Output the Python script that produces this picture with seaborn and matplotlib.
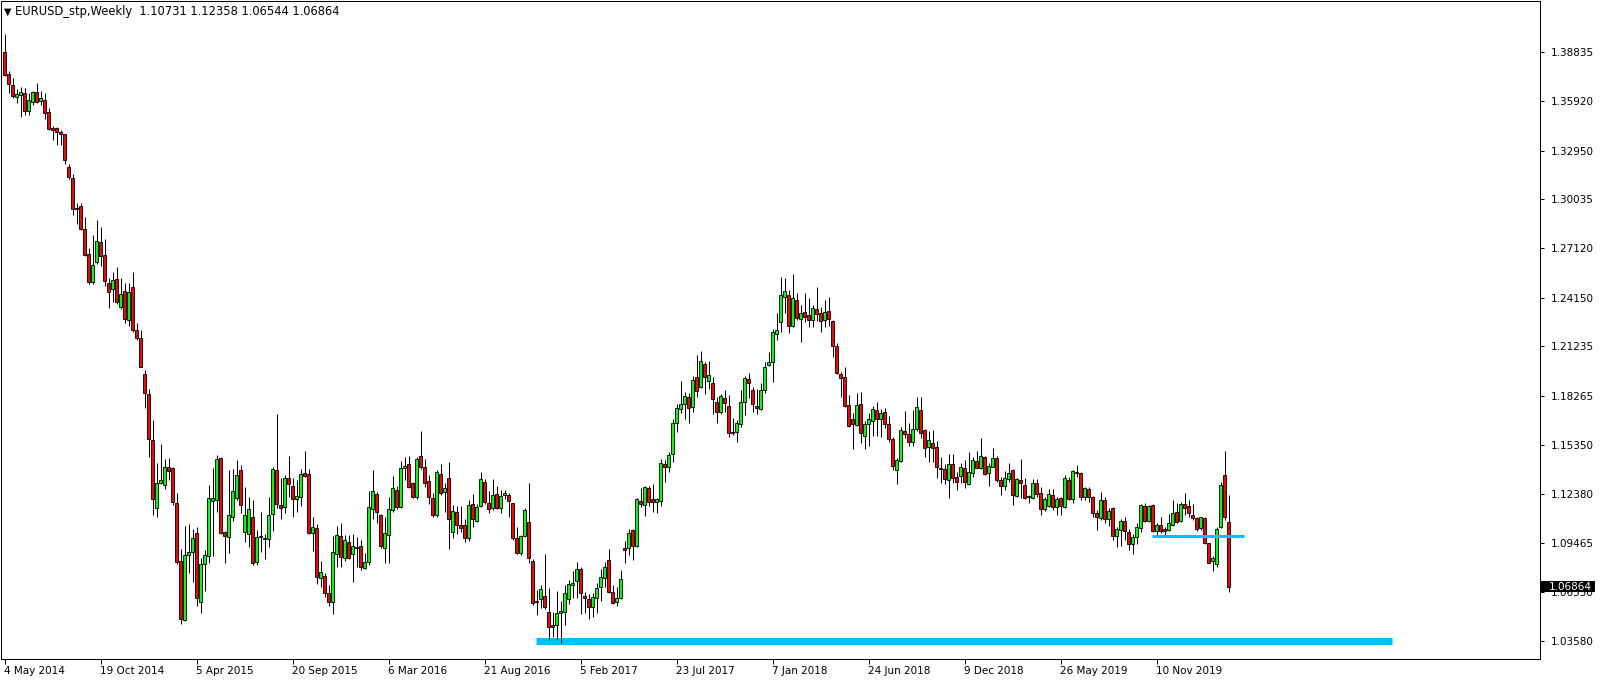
import numpy as np
import pandas as pd
import matplotlib
matplotlib.use("Agg")
import matplotlib.pyplot as plt
import matplotlib.transforms as mtransforms
from matplotlib.patches import Rectangle
import seaborn as sns

# EURUSD weekly candles, week of 4 May 2014 up to week of 15 Mar 2020
open_ = [
    1.3882, 1.3752, 1.3690, 1.3616, 1.3628, 1.3640, 1.3532, 1.3586, 1.3644, 1.3592,
    1.3596, 1.3524, 1.3430, 1.3430, 1.3404, 1.3392, 1.3194, 1.3128, 1.2954, 1.2966,
    1.2828, 1.2678, 1.2506, 1.2626, 1.2750, 1.2670, 1.2504, 1.2466, 1.2526, 1.2356,
    1.2456, 1.2280, 1.2476, 1.2220, 1.2176, 1.1955, 1.1840, 1.1563, 1.1154, 1.1307,
    1.1293, 1.1399, 1.1393, 1.1184, 1.0838, 1.0485, 1.0872, 1.0890, 1.1004, 1.0591,
    1.0819, 1.0868, 1.1196, 1.1204, 1.1453, 1.1014, 1.0984, 1.1100, 1.1214, 1.1383,
    1.1010, 1.0998, 1.1102, 1.0834, 1.0988, 1.0976, 1.0972, 1.1120, 1.1383, 1.1174,
    1.1160, 1.1333, 1.1287, 1.1212, 1.1224, 1.1363, 1.1357, 1.1008, 1.1036, 1.0735,
    1.0749, 1.0649, 1.0591, 1.0879, 1.0989, 1.0855, 1.0953, 1.0879, 1.0925, 1.0929,
    1.0795, 1.0835, 1.1148, 1.1238, 1.1114, 1.0915, 1.0995, 1.1144, 1.1264, 1.1164,
    1.1397, 1.1417, 1.1304, 1.1220, 1.1467, 1.1399, 1.1318, 1.1214, 1.1116, 1.1360,
    1.1250, 1.1334, 1.1010, 1.1130, 1.1054, 1.1054, 1.0974, 1.1178, 1.1080, 1.1168,
    1.1310, 1.1188, 1.1158, 1.1238, 1.1154, 1.1232, 1.1232, 1.1184, 1.0975, 1.0885,
    1.0991, 1.1070, 1.0839, 1.0597, 1.0609, 1.0629, 1.0534, 1.0456, 1.0454, 1.0526,
    1.0532, 1.0609, 1.0695, 1.0721, 1.0789, 1.0629, 1.0609, 1.0565, 1.0615, 1.0681,
    1.0735, 1.0845, 1.0655, 1.0591, 1.0615, 1.0918, 1.0914, 1.1024, 1.0928, 1.1198,
    1.1172, 1.1274, 1.1210, 1.1194, 1.1200, 1.1419, 1.1399, 1.1477, 1.1663, 1.1746,
    1.1776, 1.1818, 1.1758, 1.1938, 1.1882, 1.2018, 1.1918, 1.1906, 1.1790, 1.1728,
    1.1812, 1.1766, 1.1611, 1.1613, 1.1657, 1.1788, 1.1928, 1.1862, 1.1766, 1.1746,
    1.1862, 1.2010, 1.2028, 1.2195, 1.2267, 1.2421, 1.2431, 1.2247, 1.2401, 1.2287,
    1.2329, 1.2311, 1.2281, 1.2345, 1.2321, 1.2281, 1.2335, 1.2275, 1.2123, 1.1958,
    1.1940, 1.1772, 1.1688, 1.1655, 1.1778, 1.1589, 1.1659, 1.1677, 1.1742, 1.1690,
    1.1728, 1.1659, 1.1567, 1.1383, 1.1439, 1.1617, 1.1601, 1.1549, 1.1627, 1.1742,
    1.1623, 1.1523, 1.1543, 1.1519, 1.1393, 1.1387, 1.1323, 1.1417, 1.1339, 1.1349,
    1.1393, 1.1300, 1.1367, 1.1437, 1.1397, 1.1459, 1.1363, 1.1403, 1.1455, 1.1323,
    1.1288, 1.1329, 1.1383, 1.1228, 1.1323, 1.1294, 1.1228, 1.1214, 1.1303, 1.1244,
    1.1148, 1.1168, 1.1232, 1.1160, 1.1214, 1.1160, 1.1323, 1.1212, 1.1374, 1.1368,
    1.1224, 1.1268, 1.1220, 1.1124, 1.1098, 1.1204, 1.1092, 1.1154, 1.0990, 1.1024,
    1.1080, 1.1012, 1.0938, 1.0980, 1.1034, 1.1168, 1.1080, 1.1172, 1.1020, 1.1054,
    1.1028, 1.1024, 1.1054, 1.1130, 1.1080, 1.1178, 1.1168, 1.1114, 1.1094, 1.1034,
    1.1094, 1.0944, 1.0841, 1.0821, 1.1044, 1.1352, 1.10731,
]
high = [
    1.3992, 1.3772, 1.3732, 1.3666, 1.3676, 1.3668, 1.3640, 1.3652, 1.3700, 1.3650,
    1.3640, 1.3548, 1.3440, 1.3436, 1.3416, 1.3396, 1.3216, 1.3156, 1.2980, 1.2980,
    1.2900, 1.2712, 1.2792, 1.2882, 1.2840, 1.2766, 1.2530, 1.2566, 1.2600, 1.2530,
    1.2504, 1.2500, 1.2570, 1.2266, 1.2220, 1.1980, 1.1870, 1.1682, 1.1423, 1.1539,
    1.1447, 1.1455, 1.1399, 1.1248, 1.0912, 1.1048, 1.1060, 1.1032, 1.1044, 1.0859,
    1.0904, 1.1293, 1.1393, 1.1473, 1.1459, 1.1020, 1.1383, 1.1387, 1.1443, 1.1413,
    1.1279, 1.1220, 1.1204, 1.1024, 1.1130, 1.1000, 1.1220, 1.1403, 1.1718, 1.1333,
    1.1353, 1.1467, 1.1333, 1.1323, 1.1387, 1.1495, 1.1387, 1.1104, 1.1060, 1.0839,
    1.0769, 1.0695, 1.0989, 1.1048, 1.1064, 1.0995, 1.0995, 1.0998, 1.0985, 1.0965,
    1.0885, 1.1260, 1.1383, 1.1254, 1.1120, 1.1104, 1.1220, 1.1348, 1.1288, 1.1439,
    1.1463, 1.1467, 1.1314, 1.1459, 1.1617, 1.1447, 1.1354, 1.1244, 1.1383, 1.1419,
    1.1304, 1.1431, 1.1174, 1.1168, 1.1168, 1.1090, 1.1204, 1.1240, 1.1180, 1.1371,
    1.1328, 1.1258, 1.1328, 1.1288, 1.1264, 1.1264, 1.1244, 1.1188, 1.1040, 1.0995,
    1.1154, 1.1304, 1.0849, 1.0665, 1.0695, 1.0881, 1.0675, 1.0536, 1.0659, 1.0601,
    1.0695, 1.0725, 1.0781, 1.0831, 1.0801, 1.0655, 1.0641, 1.0645, 1.0705, 1.0789,
    1.0835, 1.0908, 1.0695, 1.0685, 1.0785, 1.0958, 1.1028, 1.1028, 1.1218, 1.1274,
    1.1288, 1.1288, 1.1300, 1.1214, 1.1447, 1.1443, 1.1493, 1.1689, 1.1778, 1.1916,
    1.1852, 1.1842, 1.1946, 1.2072, 1.2096, 1.2032, 1.2038, 1.1942, 1.1818, 1.1838,
    1.1862, 1.1832, 1.1692, 1.1683, 1.1862, 1.1946, 1.1962, 1.1878, 1.1868, 1.1902,
    1.2032, 1.2090, 1.2227, 1.2325, 1.2540, 1.2530, 1.2461, 1.2556, 1.2441, 1.2371,
    1.2441, 1.2411, 1.2371, 1.2477, 1.2357, 1.2401, 1.2417, 1.2281, 1.2141, 1.1968,
    1.1998, 1.1830, 1.1726, 1.1842, 1.1852, 1.1679, 1.1722, 1.1768, 1.1792, 1.1748,
    1.1754, 1.1708, 1.1583, 1.1453, 1.1643, 1.1736, 1.1667, 1.1742, 1.1822, 1.1822,
    1.1629, 1.1619, 1.1623, 1.1557, 1.1459, 1.1419, 1.1479, 1.1479, 1.1373, 1.1423,
    1.1443, 1.1493, 1.1463, 1.1499, 1.1573, 1.1467, 1.1423, 1.1517, 1.1467, 1.1343,
    1.1379, 1.1423, 1.1390, 1.1333, 1.1449, 1.1333, 1.1234, 1.1329, 1.1329, 1.1283,
    1.1224, 1.1268, 1.1268, 1.1220, 1.1224, 1.1353, 1.1343, 1.1383, 1.1414, 1.1374,
    1.1284, 1.1284, 1.1228, 1.1144, 1.1252, 1.1224, 1.1154, 1.1164, 1.1044, 1.1090,
    1.1104, 1.1028, 1.1000, 1.1064, 1.1180, 1.1184, 1.1174, 1.1180, 1.1064, 1.1104,
    1.1040, 1.1120, 1.1204, 1.1188, 1.1194, 1.1244, 1.1204, 1.1180, 1.1104, 1.1104,
    1.1104, 1.0948, 1.0869, 1.1040, 1.1314, 1.1495, 1.12358,
]
low = [
    1.3744, 1.3640, 1.3612, 1.3580, 1.3496, 1.3508, 1.3506, 1.3568, 1.3578, 1.3566,
    1.3482, 1.3420, 1.3356, 1.3326, 1.3326, 1.3212, 1.3126, 1.2912, 1.2856, 1.2822,
    1.2666, 1.2496, 1.2496, 1.2616, 1.2606, 1.2482, 1.2352, 1.2390, 1.2376, 1.2344,
    1.2266, 1.2246, 1.2212, 1.2160, 1.2000, 1.1754, 1.1460, 1.1114, 1.1100, 1.1299,
    1.1271, 1.1323, 1.1174, 1.0824, 1.0465, 1.0481, 1.0769, 1.0715, 1.0571, 1.0525,
    1.0661, 1.0825, 1.0868, 1.1134, 1.1000, 1.0825, 1.0888, 1.1080, 1.1204, 1.1128,
    1.0954, 1.0920, 1.0815, 1.0815, 1.0894, 1.0849, 1.0924, 1.1020, 1.1154, 1.1088,
    1.1124, 1.1220, 1.1104, 1.1134, 1.1168, 1.1339, 1.1000, 1.0900, 1.0701, 1.0681,
    1.0621, 1.0571, 1.0522, 1.0801, 1.0805, 1.0841, 1.0849, 1.0715, 1.0805, 1.0785,
    1.0789, 1.0815, 1.1088, 1.1068, 1.0915, 1.0829, 1.0825, 1.1134, 1.1148, 1.1154,
    1.1324, 1.1274, 1.1214, 1.1212, 1.1390, 1.1280, 1.1180, 1.1104, 1.1100, 1.1234,
    1.1134, 1.0913, 1.0975, 1.1000, 1.1014, 1.0955, 1.0960, 1.1044, 1.1074, 1.1164,
    1.1180, 1.1124, 1.1144, 1.1148, 1.1124, 1.1208, 1.1104, 1.0965, 1.0881, 1.0875,
    1.0985, 1.0829, 1.0574, 1.0516, 1.0556, 1.0550, 1.0366, 1.0382, 1.0366, 1.0346,
    1.0456, 1.0581, 1.0619, 1.0619, 1.0522, 1.0526, 1.0494, 1.0502, 1.0530, 1.0601,
    1.0685, 1.0649, 1.0581, 1.0571, 1.0609, 1.0825, 1.0875, 1.0845, 1.0924, 1.1164,
    1.1110, 1.1168, 1.1134, 1.1124, 1.1168, 1.1313, 1.1373, 1.1433, 1.1613, 1.1722,
    1.1690, 1.1663, 1.1732, 1.1822, 1.1872, 1.1838, 1.1866, 1.1716, 1.1667, 1.1718,
    1.1732, 1.1579, 1.1593, 1.1553, 1.1639, 1.1712, 1.1812, 1.1732, 1.1718, 1.1742,
    1.1846, 1.2006, 1.1912, 1.2161, 1.2211, 1.2325, 1.2205, 1.2237, 1.2281, 1.2151,
    1.2271, 1.2241, 1.2241, 1.2277, 1.2211, 1.2241, 1.2245, 1.2057, 1.1958, 1.1822,
    1.1762, 1.1643, 1.1509, 1.1649, 1.1543, 1.1509, 1.1529, 1.1589, 1.1589, 1.1583,
    1.1633, 1.1553, 1.1383, 1.1301, 1.1433, 1.1573, 1.1527, 1.1529, 1.1619, 1.1573,
    1.1463, 1.1433, 1.1433, 1.1337, 1.1304, 1.1300, 1.1214, 1.1304, 1.1264, 1.1304,
    1.1274, 1.1294, 1.1343, 1.1393, 1.1387, 1.1353, 1.1288, 1.1399, 1.1313, 1.1234,
    1.1264, 1.1313, 1.1174, 1.1224, 1.1214, 1.1208, 1.1184, 1.1208, 1.1224, 1.1114,
    1.1140, 1.1160, 1.1144, 1.1114, 1.1114, 1.1154, 1.1204, 1.1184, 1.1344, 1.1204,
    1.1204, 1.1194, 1.1104, 1.1024, 1.1084, 1.1064, 1.1048, 1.0965, 1.0925, 1.0929,
    1.0965, 1.0905, 1.0881, 1.0940, 1.1014, 1.1074, 1.1074, 1.1014, 1.0988, 1.1008,
    1.0984, 1.1020, 1.1048, 1.1064, 1.1074, 1.1114, 1.1104, 1.1084, 1.1020, 1.1024,
    1.0940, 1.0825, 1.0781, 1.0805, 1.1034, 1.1084, 1.06544,
]
close = [
    1.3746, 1.3696, 1.3622, 1.3632, 1.3644, 1.3532, 1.3596, 1.3646, 1.3584, 1.3608,
    1.3520, 1.3424, 1.3418, 1.3406, 1.3394, 1.3238, 1.3136, 1.2944, 1.2944, 1.2828,
    1.2672, 1.2506, 1.2612, 1.2756, 1.2664, 1.2512, 1.2446, 1.2520, 1.2386, 1.2436,
    1.2286, 1.2450, 1.2220, 1.2172, 1.2002, 1.1842, 1.1566, 1.1208, 1.1304, 1.1323,
    1.1399, 1.1379, 1.1194, 1.0834, 1.0489, 1.0874, 1.0890, 1.0974, 1.0615, 1.0821,
    1.0872, 1.1214, 1.1216, 1.1449, 1.1008, 1.0988, 1.1114, 1.1257, 1.1353, 1.1172,
    1.1114, 1.1150, 1.0830, 1.0982, 1.0984, 1.0968, 1.1114, 1.1389, 1.1180, 1.1154,
    1.1333, 1.1297, 1.1208, 1.1228, 1.1357, 1.1347, 1.1008, 1.1040, 1.0741, 1.0775,
    1.0649, 1.0595, 1.0891, 1.0995, 1.0865, 1.0965, 1.0859, 1.0931, 1.0915, 1.0801,
    1.0831, 1.1160, 1.1258, 1.1130, 1.0931, 1.1004, 1.1148, 1.1274, 1.1164, 1.1394,
    1.1407, 1.1284, 1.1220, 1.1447, 1.1403, 1.1308, 1.1224, 1.1112, 1.1374, 1.1248,
    1.1276, 1.1088, 1.1138, 1.1054, 1.1034, 1.0974, 1.1172, 1.1088, 1.1160, 1.1328,
    1.1194, 1.1152, 1.1234, 1.1158, 1.1226, 1.1244, 1.1200, 1.0975, 1.0885, 1.0989,
    1.1142, 1.0855, 1.0589, 1.0593, 1.0669, 1.0561, 1.0446, 1.0442, 1.0526, 1.0540,
    1.0645, 1.0699, 1.0707, 1.0789, 1.0645, 1.0615, 1.0561, 1.0621, 1.0675, 1.0743,
    1.0803, 1.0655, 1.0589, 1.0615, 1.0729, 1.0904, 1.1004, 1.0928, 1.1210, 1.1182,
    1.1284, 1.1194, 1.1194, 1.1210, 1.1423, 1.1403, 1.1473, 1.1663, 1.1752, 1.1776,
    1.1826, 1.1756, 1.1922, 1.1858, 1.2036, 1.1942, 1.1952, 1.1810, 1.1732, 1.1826,
    1.1782, 1.1607, 1.1603, 1.1663, 1.1792, 1.1936, 1.1902, 1.1776, 1.1752, 1.1862,
    1.1998, 1.2030, 1.2207, 1.2219, 1.2431, 1.2455, 1.2247, 1.2411, 1.2295, 1.2321,
    1.2301, 1.2281, 1.2351, 1.2315, 1.2277, 1.2327, 1.2285, 1.2127, 1.1962, 1.1936,
    1.1768, 1.1648, 1.1658, 1.1772, 1.1607, 1.1659, 1.1689, 1.1748, 1.1686, 1.1726,
    1.1657, 1.1567, 1.1407, 1.1443, 1.1623, 1.1601, 1.1553, 1.1629, 1.1758, 1.1603,
    1.1517, 1.1563, 1.1517, 1.1403, 1.1387, 1.1331, 1.1419, 1.1333, 1.1313, 1.1399,
    1.1309, 1.1369, 1.1443, 1.1397, 1.1467, 1.1359, 1.1407, 1.1453, 1.1323, 1.1288,
    1.1333, 1.1363, 1.1234, 1.1327, 1.1303, 1.1218, 1.1220, 1.1303, 1.1240, 1.1148,
    1.1208, 1.1240, 1.1160, 1.1210, 1.1168, 1.1337, 1.1212, 1.1378, 1.1364, 1.1224,
    1.1274, 1.1220, 1.1128, 1.1104, 1.1204, 1.1092, 1.1138, 1.0990, 1.1030, 1.1080,
    1.1020, 1.0940, 1.0984, 1.1040, 1.1172, 1.1080, 1.1168, 1.1020, 1.1054, 1.1020,
    1.1020, 1.1064, 1.1124, 1.1074, 1.1180, 1.1158, 1.1124, 1.1094, 1.1028, 1.1100,
    1.0944, 1.0829, 1.0857, 1.1028, 1.1292, 1.1104, 1.06864,
]

date_labels = ["4 May 2014", "19 Oct 2014", "5 Apr 2015", "20 Sep 2015", "6 Mar 2016",
               "21 Aug 2016", "5 Feb 2017", "23 Jul 2017", "7 Jan 2018", "24 Jun 2018",
               "9 Dec 2018", "26 May 2019", "10 Nov 2019"]
price_ticks = [1.38835, 1.35920, 1.32950, 1.30035, 1.27120, 1.24150, 1.21235,
               1.18265, 1.15350, 1.12380, 1.09465, 1.06550, 1.03580]

# support lines drawn on the chart (price level, first bar, last bar)
support_level, support_from, support_to = 1.0358, 132.75, 346.75
minor_level, minor_from, minor_to = 1.0991, 286.75, 309.75

df = pd.DataFrame({"open": open_, "high": high, "low": low, "close": close})
df["bar"] = np.arange(len(df))
df["up"] = df["close"] >= df["open"]
df["body_lo"] = df[["open", "close"]].min(axis=1)
df["body_h"] = (df["close"] - df["open"]).abs()

sns.set_theme(style="white")
plt.rcParams["font.family"] = ["DejaVu Sans"]

fig = plt.figure(figsize=(16.04, 6.83), dpi=100)
ax = fig.add_axes([1 / 1604, 24 / 683, 1539 / 1604, 658 / 683])

px = 0.72  # one pixel in points
ax.hlines(support_level, support_from, support_to, color="#00bfff", lw=7 * px, zorder=1)

ax.vlines(df["bar"], df["low"], df["high"], color="black", lw=px, zorder=2)
colors = np.where(df["up"], "#00ff00", "#ff0000")
ax.bar(df["bar"], df["body_h"], bottom=df["body_lo"], width=0.55, color=colors,
       edgecolor="black", linewidth=0.85 * px, zorder=3)

ax.hlines(minor_level, minor_from, minor_to, color="#00bfff", lw=3 * px, zorder=4)

ax.set_xlim(-0.875, 383.875)
ax.set_ylim(1.02526, 1.41898)

for s in ax.spines.values():
    s.set_color("black")
    s.set_linewidth(px)

ax.yaxis.tick_right()
ax.set_yticks(price_ticks, [f"{t:.5f}" for t in price_ticks])
ax.tick_params(axis="y", direction="out", length=3, width=px, pad=4.5,
               labelsize=7.5, colors="black", right=True, left=False)

tick_bars = df["bar"][::24]
ax.set_xticks(tick_bars, date_labels, ha="left")
ax.tick_params(axis="x", direction="out", length=3.5, width=px, pad=1.5,
               labelsize=7.5, colors="black", bottom=True)
ax.set_xlabel("")
ax.set_ylabel("")

# last price marker on the price scale
last = df["close"].iloc[-1]
trans = mtransforms.blended_transform_factory(ax.transAxes, ax.transData)
ax.add_patch(Rectangle((1.0005, last - 0.0033), 54 / 1539, 0.0066, transform=trans,
                       facecolor="black", edgecolor="none", clip_on=False, zorder=10))
ax.text(1.0005 + 8 / 1539, last, f"{last:.5f}", transform=trans, color="white",
        fontsize=7.5, va="center", ha="left", clip_on=False, zorder=11)

# header
head = "EURUSD_stp,Weekly  {:.5f} {:.5f} {:.5f} {:.5f}".format(
    df["open"].iloc[-1], df["high"].iloc[-1], df["low"].iloc[-1], last)
ax.text(3 / 1539, 1 - 11 / 658, "\u25bc", transform=ax.transAxes, fontsize=7,
        va="center", ha="left", color="black")
ax.text(14 / 1539, 1 - 11 / 658, head, transform=ax.transAxes, fontsize=8.3,
        va="center", ha="left", color="black")

fig.savefig("out.png", dpi=100, facecolor="white")
